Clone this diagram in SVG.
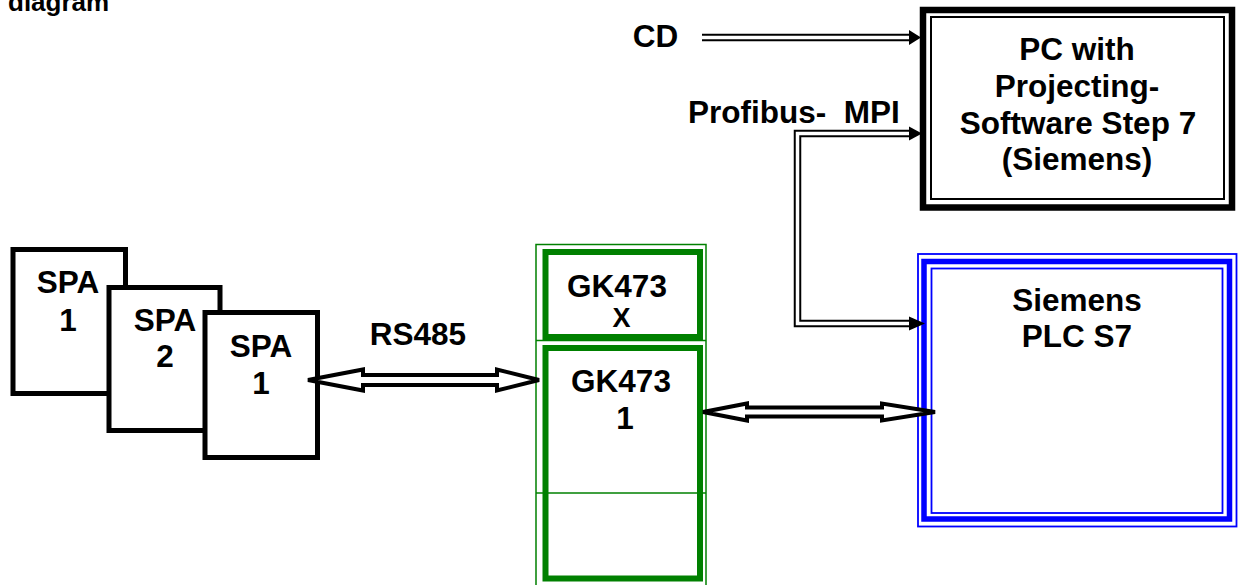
<svg xmlns="http://www.w3.org/2000/svg" xmlns:xlink="http://www.w3.org/1999/xlink" width="1241" height="585" viewBox="0 0 1241 585">
  <style>
    .t { font-family: "Liberation Sans", Arial, sans-serif; font-weight: bold; font-size: 31.5px; fill: #000; text-anchor: middle; }
    .ts { font-size: 27px; }
    .tl { text-anchor: start; }
    .spa { fill: #fff; stroke: #000; stroke-width: 5; }
    .gthin { fill: none; stroke: #008000; stroke-width: 1.5; }
    .gthick { fill: none; stroke: #008000; stroke-width: 6; }
    .bthin { fill: none; stroke: #0000ff; stroke-width: 1.8; }
    .bthick { fill: none; stroke: #0000ff; stroke-width: 5.5; }
    .kthin { fill: none; stroke: #000; stroke-width: 2; }
    .kthick { fill: #fff; stroke: #000; stroke-width: 6.5; }
    .dl-out { fill: none; stroke: #000; stroke-width: 7.5; }
    .dl-in { fill: none; stroke: #fff; stroke-width: 3.5; }
    .head { fill: #000; stroke: none; }
    .hollow { fill: #fff; stroke: #000; stroke-width: 4; stroke-linejoin: miter; }
  </style>
  <defs>
    <path id="cdLine" d="M702 37.5 H911"/>
    <path id="mpiLine" d="M911 133.5 H797.5 V323.5 H911"/>
  </defs>

  <rect width="1241" height="585" fill="#fff"/>

  <text class="t tl" x="8" y="10.5" style="font-size:26px">diagram</text>

  <g id="spa1">
    <rect class="spa" x="13" y="249.5" width="112.5" height="144"/>
    <text class="t" x="68" y="293">SPA</text>
    <text class="t" x="68" y="330.5">1</text>
  </g>
  <g id="spa2">
    <rect class="spa" x="109" y="287.5" width="111" height="143"/>
    <text class="t" x="165" y="330.5">SPA</text>
    <text class="t" x="165" y="367">2</text>
  </g>
  <g id="spa3">
    <rect class="spa" x="205" y="312.5" width="112.5" height="145"/>
    <text class="t" x="261" y="356.5">SPA</text>
    <text class="t" x="261" y="394">1</text>
  </g>

  <g id="gk473x">
    <rect x="536" y="244.5" width="170" height="350" fill="#fff" class="gthin"/>
    <rect class="gthick" x="545.5" y="252" width="154.5" height="85"/>
    <text class="t" x="617" y="296.5">GK473</text>
    <text class="t ts" x="621.5" y="327">X</text>
  </g>
  <g id="gk4731">
    <line class="gthin" x1="536" y1="340.5" x2="706" y2="340.5"/>
    <line class="gthin" x1="536" y1="493" x2="706" y2="493"/>
    <rect class="gthick" x="545.5" y="348" width="154.5" height="230.5"/>
    <text class="t" x="621" y="391.5">GK473</text>
    <text class="t" x="625" y="428.5">1</text>
  </g>

  <g id="pc">
    <rect class="kthick" x="923" y="10" width="309" height="197.5"/>
    <rect class="kthin" x="931" y="17" width="293" height="182"/>
    <text class="t" x="1077" y="60">PC with</text>
    <text class="t" x="1077" y="97">Projecting-</text>
    <text class="t" x="1078" y="133.5">Software Step 7</text>
    <text class="t" x="1077" y="170">(Siemens)</text>
  </g>

  <g id="plc">
    <rect class="bthin" x="918" y="254" width="318.5" height="272.5" fill="#fff"/>
    <rect class="bthick" x="924" y="261.5" width="305.5" height="257.5"/>
    <rect class="bthin" x="931.5" y="268.5" width="291" height="244.5"/>
    <text class="t" x="1077" y="310.5">Siemens</text>
    <text class="t" x="1077" y="346.5">PLC S7</text>
  </g>

  <g id="connectors">
    <use xlink:href="#cdLine" class="dl-out"/>
    <use xlink:href="#cdLine" class="dl-in"/>
    <polygon class="head" points="909,30 921,37.5 909,45"/>
    <text class="t" x="655.5" y="46.5">CD</text>

    <use xlink:href="#mpiLine" class="dl-out"/>
    <use xlink:href="#mpiLine" class="dl-in"/>
    <polygon class="head" points="909,126.5 922,133.5 909,140.5"/>
    <polygon class="head" points="909,316.5 925,323.5 909,330.5"/>
    <text class="t tl" x="688" y="123" xml:space="preserve">Profibus-  MPI</text>

    <polygon class="hollow" points="308,380 363,369.5 363,375 497,375 497,369.5 539,380 497,390.5 497,385 363,385 363,390.5"/>
    <text class="t" x="418" y="345">RS485</text>

    <polygon class="hollow" points="703,412 747,403.5 747,407.5 882,407.5 882,403.5 935,412 882,420.5 882,416.5 747,416.5 747,420.5"/>
  </g>
</svg>
